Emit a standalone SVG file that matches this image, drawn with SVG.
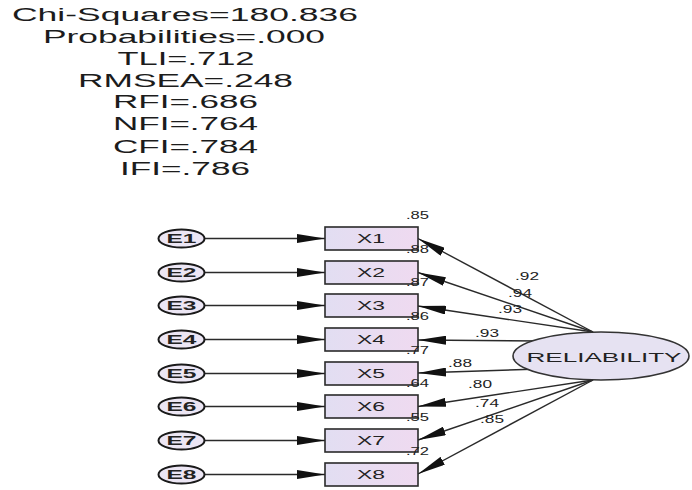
<svg xmlns="http://www.w3.org/2000/svg" width="692" height="490" viewBox="0 0 692 490">
<defs>
<linearGradient id="boxFill" x1="0" y1="0" x2="1" y2="0">
<stop offset="0" stop-color="#e2def2"/>
<stop offset="1" stop-color="#efdaf0"/>
</linearGradient>
<marker id="arr" viewBox="0 0 28 9" refX="28" refY="4.5" markerWidth="28" markerHeight="9" orient="auto" markerUnits="userSpaceOnUse">
<path d="M0,0 L28,4.5 L0,9 Z" fill="#111"/>
</marker>
<style>
.fit{font-family:"Liberation Sans",Arial,sans-serif;font-size:18px;fill:#1c1c1c;text-anchor:middle}
.box{fill:url(#boxFill);stroke:#2a2a2a;stroke-width:1.6}
.err{fill:#ece6f4;stroke:#1a1a1a;stroke-width:2}
.lat{fill:#e6e2f2;stroke:#333;stroke-width:1.6}
.lbl{font-family:"Liberation Sans",Arial,sans-serif;font-size:13px;fill:#222;text-anchor:middle}
.elbl{font-family:"Liberation Sans",Arial,sans-serif;font-size:13px;font-weight:bold;fill:#222;text-anchor:middle}
.num{font-family:"Liberation Sans",Arial,sans-serif;font-size:10.5px;fill:#222}
.conn line{stroke:#2a2a2a;stroke-width:1.4;marker-end:url(#arr)}
</style>
</defs>
<rect width="692" height="490" fill="#ffffff"/>
<g id="fit-indices">
<text class="fit" x="185" y="21" textLength="346" lengthAdjust="spacingAndGlyphs">Chi-Squares=180.836</text>
<text class="fit" x="184" y="43" textLength="282" lengthAdjust="spacingAndGlyphs">Probabilities=.000</text>
<text class="fit" x="186" y="65" textLength="137" lengthAdjust="spacingAndGlyphs">TLI=.712</text>
<text class="fit" x="185.5" y="87" textLength="215" lengthAdjust="spacingAndGlyphs">RMSEA=.248</text>
<text class="fit" x="185.5" y="108" textLength="145" lengthAdjust="spacingAndGlyphs">RFI=.686</text>
<text class="fit" x="185.5" y="130" textLength="145" lengthAdjust="spacingAndGlyphs">NFI=.764</text>
<text class="fit" x="185.5" y="153" textLength="145" lengthAdjust="spacingAndGlyphs">CFI=.784</text>
<text class="fit" x="185" y="175" textLength="130" lengthAdjust="spacingAndGlyphs">IFI=.786</text>
</g>
<g id="connectors" class="conn">
<line x1="205" y1="238.5" x2="325" y2="238.5"/>
<line x1="205" y1="272.5" x2="325" y2="272.5"/>
<line x1="205" y1="305.5" x2="325" y2="305.5"/>
<line x1="205" y1="339.5" x2="325" y2="339.5"/>
<line x1="205" y1="373.5" x2="325" y2="373.5"/>
<line x1="205" y1="406.5" x2="325" y2="406.5"/>
<line x1="205" y1="440.5" x2="325" y2="440.5"/>
<line x1="205" y1="474.5" x2="325" y2="474.5"/>
<line x1="593" y1="332" x2="418" y2="238.5"/>
<line x1="593" y1="332" x2="418" y2="272.5"/>
<line x1="593" y1="332" x2="418" y2="306"/>
<line x1="540" y1="341" x2="418" y2="340"/>
<line x1="540" y1="369" x2="418" y2="373"/>
<line x1="593" y1="380" x2="418" y2="406.5"/>
<line x1="593" y1="380" x2="418" y2="440"/>
<line x1="593" y1="380" x2="418" y2="474"/>
</g>
<g id="E1"><ellipse class="err" cx="181.5" cy="238.5" rx="23" ry="9"/><text class="elbl" x="181.5" y="243" textLength="30" lengthAdjust="spacingAndGlyphs">E1</text></g>
<g id="E2"><ellipse class="err" cx="181.5" cy="272.5" rx="23" ry="9"/><text class="elbl" x="181.5" y="277" textLength="30" lengthAdjust="spacingAndGlyphs">E2</text></g>
<g id="E3"><ellipse class="err" cx="181.5" cy="305.5" rx="23" ry="9"/><text class="elbl" x="181.5" y="310" textLength="30" lengthAdjust="spacingAndGlyphs">E3</text></g>
<g id="E4"><ellipse class="err" cx="181.5" cy="339.5" rx="23" ry="9"/><text class="elbl" x="181.5" y="344" textLength="30" lengthAdjust="spacingAndGlyphs">E4</text></g>
<g id="E5"><ellipse class="err" cx="181.5" cy="373.5" rx="23" ry="9"/><text class="elbl" x="181.5" y="378" textLength="30" lengthAdjust="spacingAndGlyphs">E5</text></g>
<g id="E6"><ellipse class="err" cx="181.5" cy="406.5" rx="23" ry="9"/><text class="elbl" x="181.5" y="411" textLength="30" lengthAdjust="spacingAndGlyphs">E6</text></g>
<g id="E7"><ellipse class="err" cx="181.5" cy="440.5" rx="23" ry="9"/><text class="elbl" x="181.5" y="445" textLength="30" lengthAdjust="spacingAndGlyphs">E7</text></g>
<g id="E8"><ellipse class="err" cx="181.5" cy="474.5" rx="23" ry="9"/><text class="elbl" x="181.5" y="479" textLength="30" lengthAdjust="spacingAndGlyphs">E8</text></g>
<g id="X1"><rect class="box" x="325" y="227" width="93" height="23"/><text class="lbl" x="371" y="243" textLength="28" lengthAdjust="spacingAndGlyphs">X1</text><text class="num" x="406" y="219" textLength="23" lengthAdjust="spacingAndGlyphs">.85</text></g>
<g id="X2"><rect class="box" x="325" y="261" width="93" height="23"/><text class="lbl" x="371" y="277" textLength="28" lengthAdjust="spacingAndGlyphs">X2</text><text class="num" x="406" y="253" textLength="23" lengthAdjust="spacingAndGlyphs">.88</text></g>
<g id="X3"><rect class="box" x="325" y="294" width="93" height="23"/><text class="lbl" x="371" y="310" textLength="28" lengthAdjust="spacingAndGlyphs">X3</text><text class="num" x="406" y="286" textLength="23" lengthAdjust="spacingAndGlyphs">.87</text></g>
<g id="X4"><rect class="box" x="325" y="328" width="93" height="23"/><text class="lbl" x="371" y="344" textLength="28" lengthAdjust="spacingAndGlyphs">X4</text><text class="num" x="406" y="320" textLength="23" lengthAdjust="spacingAndGlyphs">.86</text></g>
<g id="X5"><rect class="box" x="325" y="362" width="93" height="23"/><text class="lbl" x="371" y="378" textLength="28" lengthAdjust="spacingAndGlyphs">X5</text><text class="num" x="406" y="354" textLength="23" lengthAdjust="spacingAndGlyphs">.77</text></g>
<g id="X6"><rect class="box" x="325" y="395" width="93" height="23"/><text class="lbl" x="371" y="411" textLength="28" lengthAdjust="spacingAndGlyphs">X6</text><text class="num" x="406" y="387" textLength="23" lengthAdjust="spacingAndGlyphs">.64</text></g>
<g id="X7"><rect class="box" x="325" y="429" width="93" height="23"/><text class="lbl" x="371" y="445" textLength="28" lengthAdjust="spacingAndGlyphs">X7</text><text class="num" x="406" y="421" textLength="23" lengthAdjust="spacingAndGlyphs">.55</text></g>
<g id="X8"><rect class="box" x="325" y="463" width="93" height="23"/><text class="lbl" x="371" y="479" textLength="28" lengthAdjust="spacingAndGlyphs">X8</text><text class="num" x="406" y="455" textLength="23" lengthAdjust="spacingAndGlyphs">.72</text></g>
<g id="RELIABILITY"><ellipse class="lat" cx="601" cy="356" rx="88" ry="24"/><text class="lbl" x="604" y="362" font-size="16" textLength="155" lengthAdjust="spacingAndGlyphs">RELIABILITY</text></g>
<g id="loadings">
<text class="num" x="515" y="280" textLength="24" lengthAdjust="spacingAndGlyphs">.92</text>
<text class="num" x="508" y="297" textLength="24" lengthAdjust="spacingAndGlyphs">.94</text>
<text class="num" x="498" y="313" textLength="24" lengthAdjust="spacingAndGlyphs">.93</text>
<text class="num" x="475" y="337" textLength="24" lengthAdjust="spacingAndGlyphs">.93</text>
<text class="num" x="448" y="367" textLength="24" lengthAdjust="spacingAndGlyphs">.88</text>
<text class="num" x="468" y="388" textLength="24" lengthAdjust="spacingAndGlyphs">.80</text>
<text class="num" x="475" y="407" textLength="24" lengthAdjust="spacingAndGlyphs">.74</text>
<text class="num" x="480" y="423" textLength="24" lengthAdjust="spacingAndGlyphs">.85</text>
</g>
</svg>
